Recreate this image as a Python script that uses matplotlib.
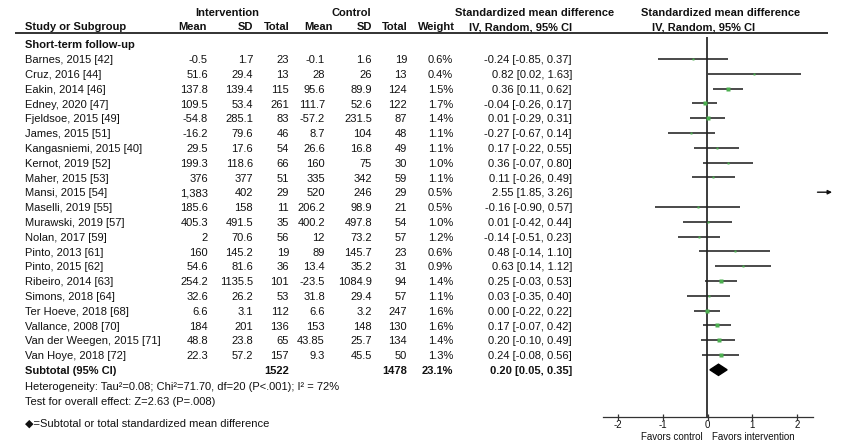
import matplotlib
matplotlib.use("Agg")
import matplotlib.pyplot as plt
from matplotlib.patches import Polygon

plt.rcParams['font.family'] = ['Liberation Sans', 'DejaVu Sans']

# ---------------- data ----------------
studies = ["Barnes, 2015 [42]", "Cruz, 2016 [44]", "Eakin, 2014 [46]", "Edney, 2020 [47]",
           "Fjeldsoe, 2015 [49]", "James, 2015 [51]", "Kangasniemi, 2015 [40]", "Kernot, 2019 [52]",
           "Maher, 2015 [53]", "Mansi, 2015 [54]", "Maselli, 2019 [55]", "Murawski, 2019 [57]",
           "Nolan, 2017 [59]", "Pinto, 2013 [61]", "Pinto, 2015 [62]", "Ribeiro, 2014 [63]",
           "Simons, 2018 [64]", "Ter Hoeve, 2018 [68]", "Vallance, 2008 [70]",
           "Van der Weegen, 2015 [71]", "Van Hoye, 2018 [72]"]
int_mean = ["-0.5", "51.6", "137.8", "109.5", "-54.8", "-16.2", "29.5", "199.3", "376", "1,383",
            "185.6", "405.3", "2", "160", "54.6", "254.2", "32.6", "6.6", "184", "48.8", "22.3"]
int_sd = ["1.7", "29.4", "139.4", "53.4", "285.1", "79.6", "17.6", "118.6", "377", "402", "158",
          "491.5", "70.6", "145.2", "81.6", "1135.5", "26.2", "3.1", "201", "23.8", "57.2"]
int_n = [23, 13, 115, 261, 83, 46, 54, 66, 51, 29, 11, 35, 56, 19, 36, 101, 53, 112, 136, 65, 157]
ctl_mean = ["-0.1", "28", "95.6", "111.7", "-57.2", "8.7", "26.6", "160", "335", "520", "206.2",
            "400.2", "12", "89", "13.4", "-23.5", "31.8", "6.6", "153", "43.85", "9.3"]
ctl_sd = ["1.6", "26", "89.9", "52.6", "231.5", "104", "16.8", "75", "342", "246", "98.9",
          "497.8", "73.2", "145.7", "35.2", "1084.9", "29.4", "3.2", "148", "25.7", "45.5"]
ctl_n = [19, 13, 124, 122, 87, 48, 49, 30, 59, 29, 21, 54, 57, 23, 31, 94, 57, 247, 130, 134, 50]
weight = [0.6, 0.4, 1.5, 1.7, 1.4, 1.1, 1.1, 1.0, 1.1, 0.5, 0.5, 1.0, 1.2, 0.6, 0.9, 1.4, 1.1,
          1.6, 1.6, 1.4, 1.3]
smd = [-0.24, 0.82, 0.36, -0.04, 0.01, -0.27, 0.17, 0.36, 0.11, 2.55, -0.16, 0.01, -0.14, 0.48,
       0.63, 0.25, 0.03, 0.00, 0.17, 0.20, 0.24]
ci_lo = [-0.85, 0.02, 0.11, -0.26, -0.29, -0.67, -0.22, -0.07, -0.26, 1.85, -0.90, -0.42, -0.51,
         -0.14, 0.14, -0.03, -0.35, -0.22, -0.07, -0.10, -0.08]
ci_hi = [0.37, 1.63, 0.62, 0.17, 0.31, 0.14, 0.55, 0.80, 0.49, 3.26, 0.57, 0.44, 0.23, 1.10,
         1.12, 0.53, 0.40, 0.22, 0.42, 0.49, 0.56]
sub_label = "Subtotal (95% CI)"
sub_n_int, sub_n_ctl, sub_weight = 1522, 1478, 23.1
sub_smd, sub_lo, sub_hi = 0.20, 0.05, 0.35
scale_ticks = [-2, -1, 0, 1, 2]

# ---------------- layout ----------------
W, H = 850, 448
fig = plt.figure(figsize=(W / 100, H / 100), dpi=100)
tab = fig.add_axes([0, 0, 1, 1])
tab.set_xlim(0, W)
tab.set_ylim(H, 0)
tab.axis('off')

TXT = '#111111'
FS = 8
ROW0, STEP = 59.0, 14.8


def ry(r):
    return ROW0 + STEP * r + 1.2


def t(x, y, s, ha='right', bold=False, fs=FS, **kw):
    tab.text(x, y, s, ha=ha, va='center', fontsize=fs, color=TXT,
             fontweight='bold' if bold else 'normal', **kw)


# headers
t(227, 13, "Intervention", ha='center', bold=True)
t(351, 13, "Control", ha='center', bold=True)
t(535, 13, "Standardized mean difference", ha='center', bold=True)
t(721, 13, "Standardized mean difference", ha='center', bold=True)
t(25, 27, "Study or Subgroup", ha='left', bold=True)
t(207, 27, "Mean", bold=True)
t(253, 27, "SD", bold=True)
t(290, 27, "Total", bold=True)
t(333, 27, "Mean", bold=True)
t(372, 27, "SD", bold=True)
t(408, 27, "Total", bold=True)
t(455, 27, "Weight", bold=True)
t(572, 27, "IV, Random, 95% CI", bold=True)
t(652, 27, "IV, Random, 95% CI", ha='left', bold=True)
tab.plot([15, 828], [33, 33], color='#222222', lw=1.3, solid_capstyle='butt')

t(25, 45, "Short-term follow-up", ha='left', bold=True)

cols = [(208, int_mean), (253, int_sd), (289, int_n), (325, ctl_mean), (372, ctl_sd), (407, ctl_n)]
for i, name in enumerate(studies):
    y = ry(i)
    t(25, y, name, ha='left')
    for x, arr in cols:
        t(x, y, str(arr[i]))
    t(453, y, f"{weight[i]:.1f}%")
    t(572, y, f"{smd[i]:.2f} [{ci_lo[i]:.2f}, {ci_hi[i]:.2f}]")

ys = ry(len(studies))
t(25, ys, sub_label, ha='left', bold=True)
t(289, ys, str(sub_n_int), bold=True)
t(407, ys, str(sub_n_ctl), bold=True)
t(453, ys, f"{sub_weight:.1f}%", bold=True)
t(572, ys, f"{sub_smd:.2f} [{sub_lo:.2f}, {sub_hi:.2f}]", bold=True)

t(25, 387, "Heterogeneity: Tau\u00b2=0.08; Chi\u00b2=71.70, df=20 (P<.001); I\u00b2 = 72%", ha='left')
t(25, 402, "Test for overall effect: Z=2.63 (P=.008)", ha='left')
t(25, 424, "\u25c6=Subtotal or total standardized mean difference", ha='left')

# ---------------- forest axes ----------------
px_left, px_right = 603, 813
zero_px, px_per_unit = 707, 57.5
top_px, bot_px = 37, 417
fax = fig.add_axes([px_left / W, 1 - bot_px / H, (px_right - px_left) / W, (bot_px - top_px) / H])
fax.set_xlim((px_left - zero_px) / px_per_unit, (px_right - zero_px) / px_per_unit)
fax.set_ylim((bot_px - ROW0) / STEP, (top_px - ROW0) / STEP)
fax.axis('off')
fax.patch.set_alpha(0)

xmin, xmax = fax.get_xlim()
fax.plot([0, 0], [(top_px - ROW0) / STEP, (bot_px - ROW0) / STEP], color='#1a1a1a', lw=1.2)
for i in range(len(studies)):
    if ci_lo[i] > xmax:
        fax.annotate("", xy=(xmax + 0.38, i), xytext=(xmax + 0.03, i),
                     arrowprops=dict(arrowstyle='-|>', color='#111111', lw=1.0,
                                     mutation_scale=6), annotation_clip=False)
        continue
    fax.plot([ci_lo[i], ci_hi[i]], [i, i], color='#222222', lw=1.15, solid_capstyle='butt')
    fax.plot(smd[i], i, marker='s', ms=1.4 + 0.6 * weight[i], color='#4caf50', mec='none',
             zorder=3)

r = len(studies)
dh = 0.38
fax.add_patch(Polygon([[sub_lo, r], [sub_smd, r - dh], [sub_hi, r], [sub_smd, r + dh]],
                      closed=True, color='black'))

# ---------------- scale axis ----------------
sax = fig.add_axes([px_left / W, 1 - bot_px / H, (px_right - px_left) / W, 0.001])
sax.set_xlim(-2.335, 2.357)
sax.set_xticks(scale_ticks)
sax.set_xticklabels([str(v) for v in scale_ticks], fontsize=7, color=TXT)
sax.set_yticks([])
for s in ['top', 'left', 'right']:
    sax.spines[s].set_visible(False)
sax.spines['bottom'].set_color('#333333')
sax.spines['bottom'].set_linewidth(0.9)
sax.tick_params(axis='x', direction='inout', length=5, width=0.9, pad=0, colors='#333333')
for lbl in sax.get_xticklabels():
    lbl.set_color(TXT)
sax.patch.set_alpha(0)

t(703, 437, "Favors control", fs=7)
t(712, 437, "Favors intervention", ha='left', fs=7)

fig.savefig("out.png", dpi=100)
